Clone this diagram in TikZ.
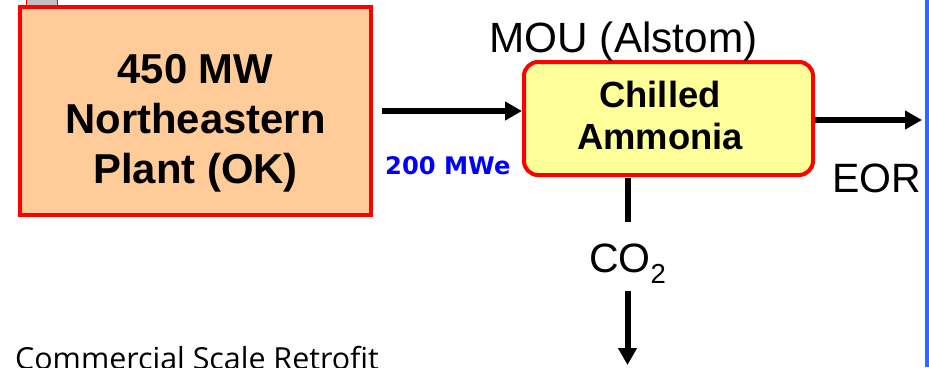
\documentclass[tikz,border=0pt]{standalone}
\usepackage{fontspec}
\setmainfont{Liberation Sans}
\newfontfamily\labelfont{DejaVu Sans}
\newfontfamily\notefont{Open Sans}
\usetikzlibrary{arrows.meta}
\definecolor{peach}{HTML}{FFCC99}
\definecolor{paleyellow}{HTML}{FFFF99}
\definecolor{boxred}{HTML}{FF0000}
\definecolor{tabgray}{HTML}{C0C0C0}
\definecolor{sideblue}{HTML}{3366FF}
\definecolor{labelblue}{HTML}{0000FF}
\tikzset{
  plantbox/.style={draw=boxred, fill=peach, line width=4pt, minimum width=351pt, minimum height=208pt, inner sep=0pt},
  processbox/.style={draw=boxred, fill=paleyellow, line width=4pt, rounded corners=14pt, minimum width=289pt, minimum height=113pt, inner sep=0pt},
  flow/.style={line width=6pt, draw=black},
  flowarrow/.style={flow, -{Triangle[length=17pt,width=18pt]}},
  bigtext/.style={font=\fontsize{41.8}{50}\selectfont\bfseries, align=center, inner sep=0pt},
  boxtext/.style={font=\fontsize{36.4}{42}\selectfont\bfseries, align=center, inner sep=0pt},
  plaintext/.style={font=\fontsize{42.3}{48}\selectfont, inner sep=0pt},
}
\begin{document}
\begin{tikzpicture}[x=1pt,y=-1pt]
\useasboundingbox (0,0) rectangle (929,367);
% side line
\fill[sideblue] (925,0) rectangle (929,367);
% gray tab
\draw[boxred, line width=1.5pt, fill=tabgray] (26.5,-3) rectangle (57.5,9);
% boxes
\node[plantbox] (plant) at (195.5,111) {};
\node[bigtext] (planttext) at (195.5,123) {450 MW\\Northeastern\\Plant (OK)};
\node[processbox] (chill) at (668.5,118.5) {};
\node[boxtext] (chilltext) at (660,115.5) {Chilled\\Ammonia};
\node[plaintext, anchor=base] (mou) at (623.5,52) {MOU (Alstom)};
\node[anchor=base west, inner sep=0pt, text=labelblue, font=\labelfont\bfseries\fontsize{24.2}{24}\selectfont] (mwe) at (385,174.5) {200 MWe};
\node[plaintext, anchor=base west, font=\fontsize{41}{46}\selectfont] (eor) at (832,192) {EOR};
\node[plaintext, anchor=base, font=\fontsize{41}{46}\selectfont] (co2) at (627.5,272) {CO\raisebox{-11pt}{\fontsize{27.5}{27}\selectfont 2}};
\node[anchor=base west, inner sep=0pt, font=\notefont\fontsize{30.4}{30}\selectfont] (note) at (15,369) {Commercial Scale Retrofit};
% coordinates
\coordinate (eorend) at (922,120);
\coordinate (co2end) at (627.5,365);
% connectors
\draw[flowarrow, shorten <=9pt] (plant.east) -- (plant.east -| chill.west);
\draw[flowarrow] (chill.east |- eorend) -- (eorend);
\draw[flow, shorten <=1pt, shorten >=21pt] (chill.south -| co2.north) -- (co2.north);
\draw[flowarrow, shorten <=8pt] (co2.south) -- (co2end);
\end{tikzpicture}
\end{document}
